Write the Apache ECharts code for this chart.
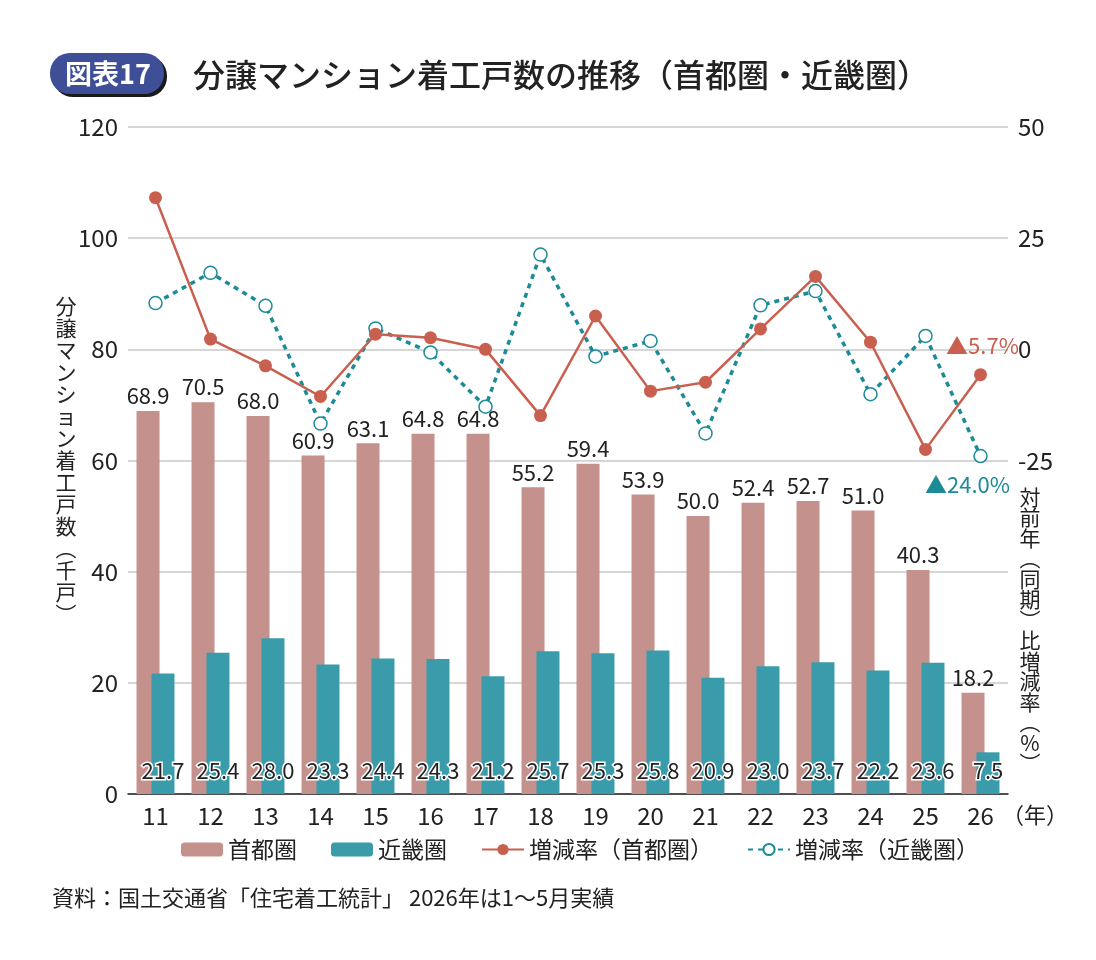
<!doctype html>
<html>
<head>
<meta charset="utf-8">
<title>分譲マンション着工戸数の推移</title>
<script src="https://cdn.jsdelivr.net/npm/echarts@6/dist/echarts.min.js"></script>
<style>
  html, body { margin: 0; padding: 0; background: #fff; }
  #main { width: 1096px; height: 960px; }
</style>
</head>
<body>
<div id="main"></div>
<script>
// 年（2011〜2026）
var years = ['11', '12', '13', '14', '15', '16', '17', '18', '19', '20', '21', '22', '23', '24', '25', '26'];
// 着工戸数（千戸）
var shutoken = [68.9, 70.5, 68.0, 60.9, 63.1, 64.8, 64.8, 55.2, 59.4, 53.9, 50.0, 52.4, 52.7, 51.0, 40.3, 18.2];
var kinki = [21.7, 25.4, 28.0, 23.3, 24.4, 24.3, 21.2, 25.7, 25.3, 25.8, 20.9, 23.0, 23.7, 22.2, 23.6, 7.5];
// 対前年（同期）比増減率（%）
var rateShutoken = [34.1, 2.3, -3.7, -10.6, 3.4, 2.6, 0.0, -14.9, 7.5, -9.4, -7.4, 4.6, 16.4, 1.6, -22.5, -5.7];
var rateKinki = [10.4, 17.2, 9.8, -16.7, 4.7, -0.7, -12.9, 21.3, -1.6, 1.9, -18.9, 9.9, 13.1, -10.1, 3.0, -24.0];

var FONT = "'Noto Sans CJK JP', sans-serif";
var RED = '#c9604f';
var TEAL = '#1b8b97';

var chart = echarts.init(document.getElementById('main'));

// 最終年だけ注記ラベルを付ける
var lastIdx = years.length - 1;
var redData = rateShutoken.map(function (v, i) {
  if (i !== lastIdx) return v;
  return {
    value: v,
    label: {
      show: true, position: 'top', distance: 12, offset: [2, 0],
      formatter: '▲' + Math.abs(v).toFixed(1) + '%',
      color: RED, fontSize: 22
    }
  };
});
var tealData = rateKinki.map(function (v, i) {
  if (i !== lastIdx) return v;
  return {
    value: v,
    label: {
      show: true, position: 'bottom', distance: 10, offset: [-13, 0],
      formatter: '▲' + Math.abs(v).toFixed(1) + '%',
      color: TEAL, fontSize: 22
    }
  };
});

chart.setOption({
  animation: false,
  textStyle: { fontFamily: FONT },
  graphic: [
    // 図表番号バッジ
    { type: 'rect', shape: { x: 53, y: 56, width: 114, height: 41, r: 20 }, style: { fill: '#1a1a1a' } },
    { type: 'rect', shape: { x: 50, y: 53, width: 114, height: 41, r: 20 }, style: { fill: '#3f4f97' } },
    { type: 'text', x: 108, y: 74, style: { text: '図表17', fill: '#fff', font: "bold 27px 'Noto Sans CJK JP'", textAlign: 'center', textVerticalAlign: 'middle' } },
    { type: 'text', x: 193, y: 75, style: { text: '分譲マンション着工戸数の推移（首都圏・近畿圏）', fill: '#222', font: "500 32px 'Noto Sans CJK JP'", textVerticalAlign: 'middle' } },
    // 軸タイトル（縦書き）
    { type: 'text', x: 66, y: 460, style: { text: '分\n譲\nマ\nン\nシ\nョ\nン\n着\n工\n戸\n数\n︵\n千\n戸\n︶', fill: '#222', font: "21px 'Noto Sans CJK JP'", lineHeight: 22, textAlign: 'center', textVerticalAlign: 'middle' } },
    { type: 'text', x: 1030, y: 630, style: { text: '対\n前\n年\n︵\n同\n期\n︶\n比\n増\n減\n率\n︵\n%\n︶', fill: '#222', font: "21px 'Noto Sans CJK JP'", lineHeight: 20.5, textAlign: 'center', textVerticalAlign: 'middle' } },
    { type: 'text', x: 1002, y: 815, style: { text: '（年）', fill: '#222', font: "22px 'Noto Sans CJK JP'", textVerticalAlign: 'middle' } },
    // 出典
    { type: 'text', x: 52, y: 898, style: { text: '資料：国土交通省「住宅着工統計」 2026年は1～5月実績', fill: '#222', font: "22px 'Noto Sans CJK JP'", textVerticalAlign: 'middle' } }
  ],
  legend: {
    left: 176, top: 833,
    itemWidth: 42, itemHeight: 14, itemGap: 34,
    textStyle: { fontSize: 23, color: '#222' },
    data: ['首都圏', '近畿圏', '増減率（首都圏）', '増減率（近畿圏）']
  },
  grid: { left: 128, right: 88, top: 127, bottom: 166 },
  xAxis: {
    type: 'category',
    data: years,
    axisLine: { lineStyle: { color: '#222', width: 1.5 } },
    axisTick: { show: false },
    axisLabel: { fontSize: 24, color: '#222', margin: 10 }
  },
  yAxis: [
    {
      type: 'value', min: 0, max: 120, interval: 20,
      axisLine: { show: false }, axisTick: { show: false },
      axisLabel: { fontSize: 24, color: '#222', margin: 10 },
      splitLine: { lineStyle: { color: '#c8c8c8', width: 1.5 } }
    },
    {
      type: 'value', min: -100, max: 50, interval: 25,
      axisLine: { show: false }, axisTick: { show: false },
      axisLabel: {
        fontSize: 24, color: '#222', margin: 10,
        formatter: function (v) { return v < -25 ? '' : String(v); }
      },
      splitLine: { show: false }
    }
  ],
  series: [
    {
      name: '首都圏', type: 'bar', data: shutoken,
      barWidth: 23, barGap: '-35%',
      itemStyle: { color: '#c4918c' },
      label: { show: true, position: 'top', distance: 4, fontSize: 22, color: '#222', formatter: function (p) { return p.value.toFixed(1); } },
      z: 2
    },
    {
      name: '近畿圏', type: 'bar', data: kinki,
      barWidth: 23,
      itemStyle: { color: '#3a9caa' },
      label: {
        show: true, position: 'insideBottom', distance: 12, fontSize: 22, color: '#222',
        textBorderColor: '#fff', textBorderWidth: 3,
        formatter: function (p) { return p.value.toFixed(1); }
      },
      z: 3
    },
    {
      name: '増減率（首都圏）', type: 'line', yAxisIndex: 1, data: redData,
      symbol: 'circle', symbolSize: 13,
      lineStyle: { color: RED, width: 2.5 },
      itemStyle: { color: RED },
      z: 5
    },
    {
      name: '増減率（近畿圏）', type: 'line', yAxisIndex: 1, data: tealData,
      symbol: 'circle', symbolSize: 13,
      lineStyle: { color: TEAL, width: 3.5, type: [5, 5] },
      itemStyle: { color: '#fff', borderColor: TEAL, borderWidth: 1.5 },
      z: 4
    }
  ]
});
</script>
</body>
</html>
